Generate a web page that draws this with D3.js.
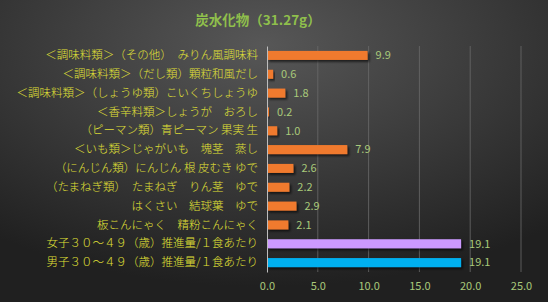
<!DOCTYPE html>
<html>
<head>
<meta charset="utf-8">
<script src="https://cdn.jsdelivr.net/npm/d3@7"></script>
<style>
  html, body { margin: 0; padding: 0; background: #222; }
  svg text { font-family: "Noto Sans CJK JP", "Noto Sans", sans-serif; }
</style>
</head>
<body>
<div id="chart"></div>
<script>
// chart data
const foods = [
  "＜調味料類＞（その他）　みりん風調味料",
  "＜調味料類＞（だし類）顆粒和風だし",
  "＜調味料類＞（しょうゆ類）こいくちしょうゆ",
  "＜香辛料類＞しょうが　おろし",
  "（ピーマン類）青ピーマン 果実 生",
  "＜いも類＞じゃがいも　塊茎　蒸し",
  "（にんじん類）にんじん 根 皮むき ゆで",
  "（たまねぎ類）　たまねぎ　りん茎　ゆで",
  "はくさい　結球葉　ゆで",
  "板こんにゃく　精粉こんにゃく",
  "女子３０～４９（歳）推進量/１食あたり",
  "男子３０～４９（歳）推進量/１食あたり"
];
const amounts = [9.9, 0.6, 1.8, 0.2, 1.0, 7.9, 2.6, 2.2, 2.9, 2.1, 19.1, 19.1];
const barColors = ["#f07a2e", "#f07a2e", "#f07a2e", "#f07a2e", "#f07a2e", "#f07a2e",
                   "#f07a2e", "#f07a2e", "#f07a2e", "#f07a2e", "#cc99ff", "#00b0f0"];
const xTicks = [0, 5, 10, 15, 20, 25];
const title = "炭水化物（31.27g）";

const width = 548;
const height = 302;
const margin = {left: 267, right: 27, top: 46, bottom: 30};

const svg = d3.select("#chart")
  .append("svg")
  .attr("width", width)
  .attr("height", height);

// background gradient
const defs = svg.append("defs");
const grad = defs.append("radialGradient")
  .attr("id", "bg")
  .attr("cx", "48%").attr("cy", "15%")
  .attr("r", "80%");
grad.append("stop").attr("offset", "0%").attr("stop-color", "#575757");
grad.append("stop").attr("offset", "100%").attr("stop-color", "#202020");

const shadow = defs.append("filter").attr("id", "shadow")
  .attr("x", "-10%").attr("y", "-50%").attr("width", "130%").attr("height", "220%");
shadow.append("feDropShadow")
  .attr("dx", 2).attr("dy", 2).attr("stdDeviation", 1.2)
  .attr("flood-color", "#000").attr("flood-opacity", 0.6);

svg.append("rect")
  .attr("width", width).attr("height", height)
  .attr("fill", "url(#bg)");

// scales
const xScale = d3.scaleLinear()
  .domain([0, 25])
  .range([margin.left, width - margin.right]);

const yScale = d3.scaleBand()
  .domain(foods)
  .range([margin.top, height - margin.bottom])
  .paddingInner(0.52)
  .paddingOuter(0.26);

// gridlines
svg.append("g")
  .selectAll("line")
  .data(xTicks.slice(1))
  .join("line")
    .attr("x1", d => xScale(d)).attr("x2", d => xScale(d))
    .attr("y1", margin.top).attr("y2", height - margin.bottom)
    .attr("stroke", "#6a6a6a")
    .attr("stroke-width", 0.8);

// x axis labels
const xAxis = svg.append("g")
  .attr("transform", `translate(0, ${height - margin.bottom})`)
  .call(d3.axisBottom(xScale).tickValues(xTicks).tickFormat(d3.format(".1f")).tickSize(0).tickPadding(10));
xAxis.select(".domain").remove();
xAxis.selectAll("text")
  .attr("fill", "#a9c97a")
  .attr("font-size", "11px");

// bars
svg.append("g")
  .selectAll("rect")
  .data(amounts)
  .join("rect")
    .attr("x", xScale(0))
    .attr("y", (d, i) => yScale(foods[i]))
    .attr("width", d => xScale(d) - xScale(0))
    .attr("height", yScale.bandwidth())
    .attr("fill", (d, i) => barColors[i])
    .attr("filter", "url(#shadow)");

// value labels
svg.append("g")
  .selectAll("text")
  .data(amounts)
  .join("text")
    .attr("x", d => xScale(d) + 8)
    .attr("y", (d, i) => yScale(foods[i]) + yScale.bandwidth() / 2)
    .attr("dy", "0.35em")
    .attr("fill", "#a9c97a")
    .attr("font-size", "11px")
    .text(d => d.toFixed(1));

// y axis line + category labels
const yAxis = svg.append("g")
  .attr("transform", `translate(${margin.left}, 0)`)
  .call(d3.axisLeft(yScale).tickSize(0).tickPadding(9));
yAxis.select(".domain").attr("stroke", "#bdbdbd").attr("stroke-width", 1);
yAxis.selectAll("text")
  .attr("fill", "#e0e036")
  .attr("font-size", "11.5px")
  .attr("font-weight", 300);

// title
svg.append("text")
  .attr("x", 258)
  .attr("y", 25)
  .attr("text-anchor", "middle")
  .attr("fill", "#8fbf4c")
  .attr("font-size", "13.5px")
  .attr("font-weight", "bold")
  .text(title);
</script>
</body>
</html>
